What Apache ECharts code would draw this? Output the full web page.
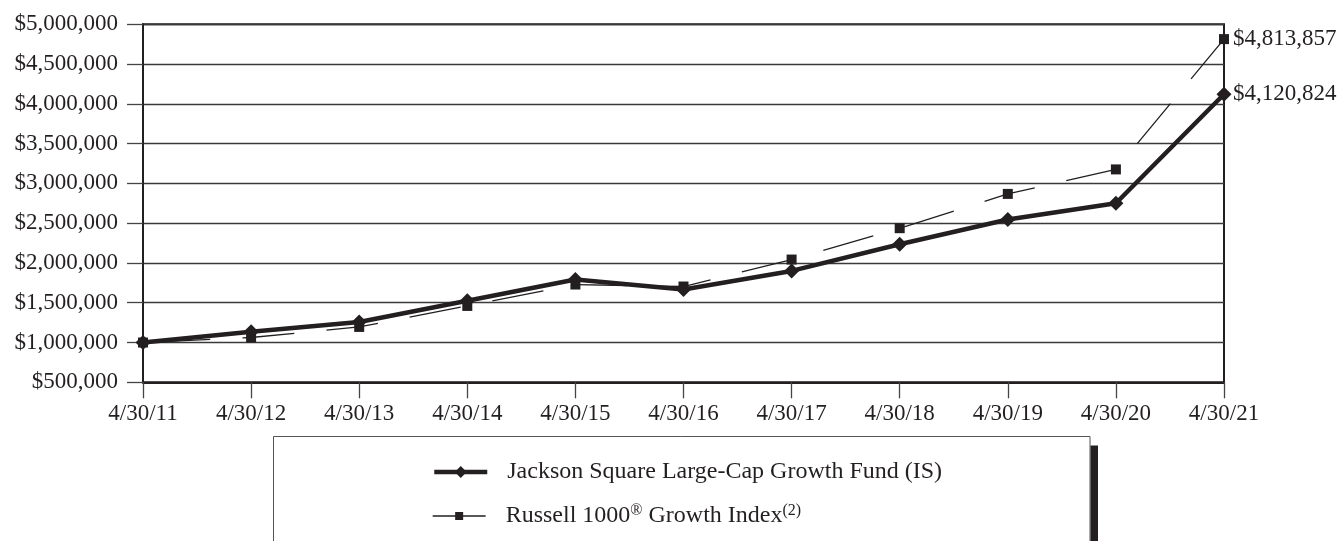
<!DOCTYPE html>
<html>
<head>
<meta charset="utf-8">
<script src="https://cdn.jsdelivr.net/npm/echarts@6/dist/echarts.min.js"></script>
<style>html,body{margin:0;padding:0;background:#fff}#c{width:1339px;height:541px}</style>
</head>
<body>
<div id="c"></div>
<script>
var categories = ['4/30/11','4/30/12','4/30/13','4/30/14','4/30/15','4/30/16','4/30/17','4/30/18','4/30/19','4/30/20','4/30/21'];
var fundValues = [1000000, 1134000, 1259000, 1525000, 1792000, 1667000, 1900000, 2236000, 2546000, 2751000, 4120824];
var indexValues = [1000000, 1063000, 1196000, 1460000, 1729000, 1704000, 2043000, 2437000, 2868000, 3176000, 4813857];
var fundName = 'Jackson Square Large-Cap Growth Fund (IS)';
var indexName = 'Russell 1000® Growth Index(2)';

var INK = '#231f20';
var FONT = '"Liberation Serif", "Times New Roman", serif';

function money(v) {
  return '$' + Math.round(v).toString().replace(/\B(?=(\d{3})+(?!\d))/g, ',');
}

var legendText = {
  fontFamily: FONT, fontSize: 24, color: INK,
  rich: {
    gap: {width: 15},
    t: {fontFamily: FONT, fontSize: 24, color: INK},
    sup: {fontFamily: FONT, fontSize: 16, color: INK, verticalAlign: 'top', padding: [0, 0, 10, 0]}
  }
};
function legendFormatter(name) {
  if (name === indexName) {
    return '{gap|}{t|Russell 1000}{sup|®}{t| Growth Index}{sup|(2)}';
  }
  return '{gap|}{t|' + name + '}';
}

var chart = echarts.init(document.getElementById('c'), null, {renderer: 'canvas'});
chart.setOption({
  animation: false,
  backgroundColor: '#fff',
  textStyle: {fontFamily: FONT, color: INK},
  grid: {left: 143, right: 115, top: 24.3, height: 358, show: true, borderColor: INK, borderWidth: 2, backgroundColor: 'transparent'},
  xAxis: {
    type: 'category',
    data: categories,
    boundaryGap: false,
    axisLine: {lineStyle: {color: INK, width: 2}},
    axisTick: {show: true, length: 16, lineStyle: {color: '#444', width: 1.3}, alignWithLabel: true},
    axisLabel: {color: INK, fontFamily: FONT, fontSize: 23, margin: 20, interval: 0}
  },
  yAxis: {
    type: 'value',
    min: 500000, max: 5000000, interval: 500000,
    axisLine: {show: true, lineStyle: {color: INK, width: 2}},
    axisTick: {show: true, length: 16, lineStyle: {color: '#444', width: 1.3}},
    axisLabel: {color: INK, fontFamily: FONT, fontSize: 23, margin: 25, formatter: money},
    splitLine: {lineStyle: {color: '#3a3a3a', width: 1.3}}
  },
  legend: [
    {
      left: 427, top: 455,
      itemWidth: 53, itemHeight: 15,
      selectedMode: false,
      textStyle: legendText,
      formatter: legendFormatter,
      data: [{name: fundName, itemStyle: {color: INK}, lineStyle: {color: INK, width: 4.5, type: 'solid'}}]
    },
    {
      left: 427, top: 498,
      itemWidth: 53, itemHeight: 10,
      selectedMode: false,
      textStyle: legendText,
      formatter: legendFormatter,
      data: [{name: indexName, itemStyle: {color: INK}, lineStyle: {color: INK, width: 1.3, type: 'solid'}}]
    }
  ],
  graphic: [
    {type: 'rect', shape: {x: 273.5, y: 436.5, width: 816.5, height: 120}, style: {fill: 'none', stroke: '#555', lineWidth: 1}, z: 0},
    {type: 'rect', shape: {x: 1090.5, y: 445.5, width: 7.5, height: 100}, style: {fill: INK}, z: 0}
  ],
  series: [
    {
      name: indexName,
      type: 'line',
      data: indexValues,
      symbol: 'rect', symbolSize: 10,
      itemStyle: {color: INK},
      lineStyle: {color: INK, width: 1.3, type: [52, 32.3], dashOffset: 69},
      endLabel: {show: true, distance: 9, formatter: function (p) { return money(p.value); }, fontFamily: FONT, fontSize: 23, color: INK},
      z: 2
    },
    {
      name: fundName,
      type: 'line',
      data: fundValues,
      symbol: 'diamond', symbolSize: 15,
      itemStyle: {color: INK},
      lineStyle: {color: INK, width: 4.5},
      endLabel: {show: true, distance: 9, formatter: function (p) { return money(p.value); }, fontFamily: FONT, fontSize: 23, color: INK},
      z: 3
    }
  ]
});
</script>
</body>
</html>
